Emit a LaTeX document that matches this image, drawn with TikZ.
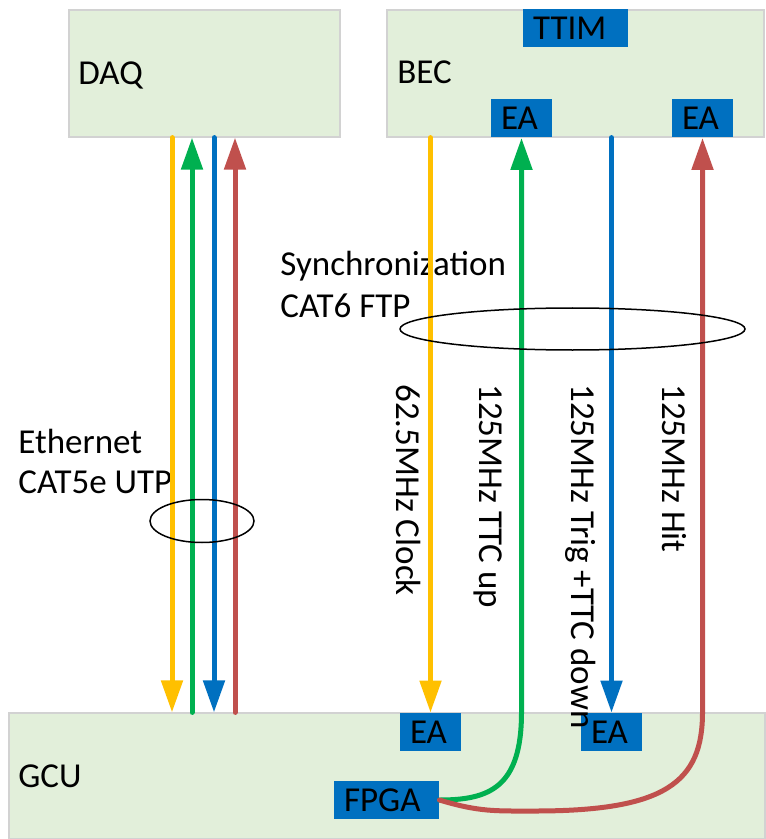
\documentclass[tikz,border=0pt]{standalone}
\usepackage{fontspec}
\setmainfont{Carlito}
\usepackage{xcolor}
\definecolor{leaf}{RGB}{226,239,218}
\definecolor{rim}{RGB}{210,210,210}
\definecolor{cobalt}{RGB}{0,112,192}
\definecolor{gold}{RGB}{255,192,0}
\definecolor{grass}{RGB}{0,176,80}
\definecolor{brick}{RGB}{192,80,77}
\usetikzlibrary{arrows.meta,shapes.geometric}
\tikzset{
  %% Crates and the modules sitting on them
  crate/.style={draw=rim, line width=0.6pt, fill=leaf, inner sep=0pt},
  tag/.style={inner sep=0pt, font=\fontsize{17.5}{21}\selectfont},
  chip/.style={tag, fill=cobalt, inner xsep=5pt, minimum height=19pt,
               align=left, text width={\dimexpr#1-10pt\relax}},
  vtag/.style={tag, rotate=-90, anchor=base west},
  %% Signal lines and cable bundles
  wire/.style={line width=2.5pt, line cap=round},
  sig/.style={wire, -{Triangle[width=10.5pt,length=16pt]}},
  ring/.style={ellipse, draw=black, line width=0.75pt, inner sep=0pt},
}

\begin{document}
\begin{tikzpicture}[x=0.5pt,y=-0.5pt]
\useasboundingbox (0,0) rectangle (765,839);

%% crates
\node[crate, minimum width=135.5pt, minimum height=63.5pt] (daq) at (204.5,73.5) {};
\node[crate, minimum width=188.5pt, minimum height=63.5pt] (bec) at (575.5,73.5) {};
\node[crate, minimum width=378pt, minimum height=63pt] (gcu) at (387,776) {};
\node[tag, anchor=base west] (daqname) at (78,85) {DAQ};
\node[tag, anchor=base west] (becname) at (397,84) {BEC};
\node[tag, anchor=base west] (gcuname) at (18,787) {GCU};

%% modules
\node[chip=52.5pt] (ttim) at (575.5,28.5) {TTIM};
\node[chip=30.5pt] (eatl) at (521.5,118.5) {EA};
\node[chip=30.5pt] (eatr) at (702.5,118.5) {EA};
\node[chip=30.5pt] (eabl) at (430.5,732) {EA};
\node[chip=30.5pt] (eabr) at (611.5,732) {EA};
\node[chip=52.5pt] (fpga) at (386.5,800) {FPGA};

%% cable names
\node[tag, anchor=base west] (ethname) at (18,453) {Ethernet};
\node[tag, anchor=base west] (ethkind) at (18,493) {CAT5e UTP};
\node[tag, anchor=base west] (syncname) at (280,276) {Synchronization};
\node[tag, anchor=base west] (synckind) at (280,317) {CAT6 FTP};

%% signal names
\node[vtag] (clklbl) at (396,384) {62.5MHz Clock};
\node[vtag] (uplbl) at (479,384) {125MHz TTC up};
\node[vtag] (triglbl) at (571,384) {125MHz Trig +TTC down};
\node[vtag] (hitlbl) at (662,384) {125MHz Hit};

%% DAQ <-> GCU
\coordinate (ka) at (172,0);
\coordinate (kb) at (192,0);
\coordinate (kc) at (214,0);
\coordinate (kd) at (235,0);
\draw[sig, gold] (ka |- daq.south) -- (ka |- gcu.north);
\draw[sig, grass] (kb |- gcu.north) -- (kb |- daq.south);
\draw[sig, cobalt] (kc |- daq.south) -- (kc |- gcu.north);
\draw[sig, brick] (kd |- gcu.north) -- (kd |- daq.south);

%% BEC <-> GCU
\draw[sig, gold] (eabl |- bec.south) -- (eabl.north);
\draw[sig, cobalt] (eabr |- bec.south) -- (eabr.north);
\draw[sig, grass] (fpga.east) .. controls +(50,0) and +(0,75) .. (eatl |- gcu.north)
  -- (eatl.south);
\draw[sig, brick] (fpga.east) .. controls +(40,12) and +(-40,0) .. (535,811)
  .. controls +(130,0) and +(0,70) .. (eatr |- gcu.north) -- (eatr.south);

%% bundles
\node[ring, minimum width=52pt, minimum height=21.5pt] (ethring) at (202,521) {};
\node[ring, minimum width=172.5pt, minimum height=21pt] (syncring) at (572.5,329) {};
\end{tikzpicture}
\end{document}
